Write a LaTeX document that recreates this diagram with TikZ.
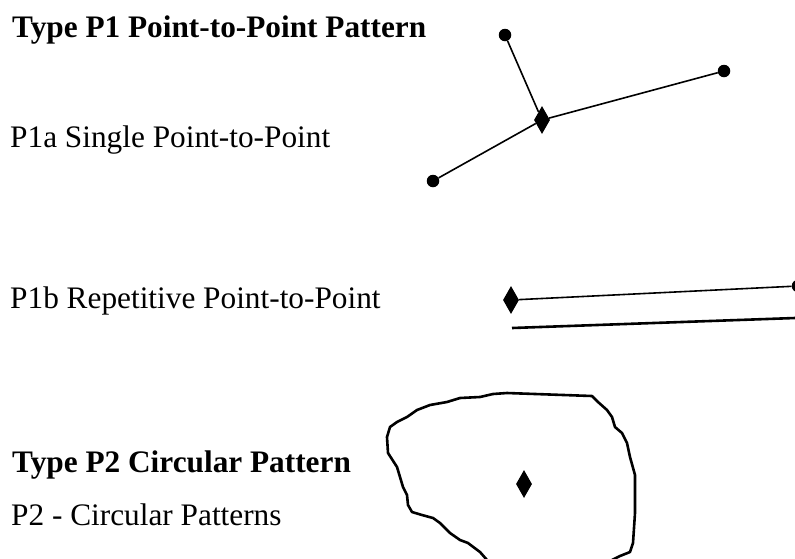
\documentclass[tikz,border=0pt]{standalone}
\usepackage{fontspec}
\setmainfont{Liberation Serif}
\usetikzlibrary{shapes.geometric}
\tikzset{
  dotpt/.style={circle,fill,inner sep=0pt,minimum size=12.5pt},
  hub/.style={diamond,fill,inner sep=0pt,minimum width=16pt,minimum height=28pt},
  lbl/.style={anchor=base west,inner sep=0pt,font=\fontsize{31.3}{36}\selectfont},
  head/.style={lbl,font=\fontsize{31.3}{36}\selectfont\bfseries},
  link/.style={line width=1.6pt},
}
\begin{document}
\begin{tikzpicture}[x=1pt,y=-1pt,line join=round]
\useasboundingbox (0,0) rectangle (795,558);
\clip (0,0) rectangle (795,558);

% labels
\node[head] (t1) at (12,37) {Type P1 Point-to-Point Pattern};
\node[lbl] (p1a) at (10,147) {P1a Single Point-to-Point};
\node[lbl] (p1b) at (10,308) {P1b Repetitive Point-to-Point};
\node[head] (t2) at (12,472) {Type P2 Circular Pattern};
\node[lbl] (p2) at (11,525) {P2 - Circular Patterns};

% P1a
\node[hub] (c1) at (542,120) {};
\node[dotpt] (a1) at (505,35) {};
\node[dotpt] (b1) at (724,71) {};
\node[dotpt] (d1) at (433,181) {};
\draw[link] (a1)--(c1);
\draw[link] (c1)--(b1);
\draw[link] (d1)--(c1);

% P1b
\node[hub] (c2) at (511,300) {};
\node[dotpt] (b2) at (798,286) {};
\draw[link] (c2)--(b2);
\coordinate (r1) at (512,328);
\coordinate (r2) at (795,318);
\draw[line width=2.6pt] (r1)--(r2);

% P2
\node[hub] (c3) at (524,484) {};
\draw[line width=2.6pt,line cap=round]
  (487,560)--(480,552)--(468,543)--(460,540)--(450,533)--(440,523)--(433,518)
  --(422,515)--(412,512)--(408,505)--(407,495)--(403,487)--(400,477)--(397,467)
  --(388,453)--(387,437)--(390,427)--(397,422)--(407,417)--(417,410)--(430,405)
  --(447,402)--(460,398)--(480,397)--(493,394)--(507,393)--(592,396)--(598,402)
  --(607,410)--(612,417)--(615,427)--(622,433)--(627,443)--(630,457)--(635,475)
  --(635,513)--(633,543)--(630,552)--(620,556)--(612,560);
\end{tikzpicture}
\end{document}
